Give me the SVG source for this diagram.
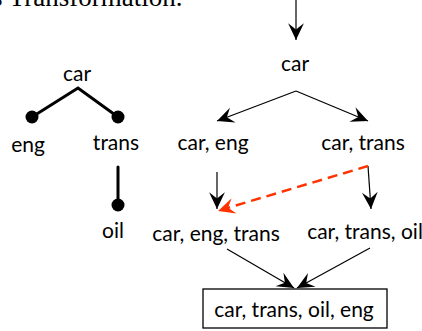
<svg xmlns="http://www.w3.org/2000/svg" width="422" height="331" viewBox="0 0 422 331">
  <style>
    text { font-family: Lato, "Noto Sans", "DejaVu Sans", sans-serif; font-size: 21px; fill: #000; text-anchor: middle; }
    .caption { font-family: "Liberation Serif", serif; font-size: 27px; text-anchor: start; }
    .tree { stroke: #000; stroke-width: 3; fill: none; stroke-linecap: round; }
    .dot { fill: #000; }
    .edge { stroke: #000; stroke-width: 1.2; fill: none; }
    .dashed { stroke: #ff3300; stroke-width: 2.5; fill: none; stroke-dasharray: 10 6; }
    .box { fill: #fff; stroke: #000; stroke-width: 1.3; }
  </style>
  <defs>
    <marker id="arrow" markerUnits="userSpaceOnUse" markerWidth="20" markerHeight="20" viewBox="-17 -9 19 18" refX="0" refY="0" orient="auto">
      <path d="M0,0 L-16,-7.5 L-10,0 L-16,7.5 Z" fill="#000"/>
    </marker>
    <marker id="arrow-red" markerUnits="userSpaceOnUse" markerWidth="20" markerHeight="20" viewBox="-17 -9 19 18" refX="0" refY="0" orient="auto">
      <path d="M0,0 L-16,-7.5 L-10,0 L-16,7.5 Z" fill="#ff3300"/>
    </marker>
  </defs>

  <!-- caption line running off the top edge -->
  <text class="caption" x="-8" y="6">s Transformation.</text>

  <!-- left: component tree -->
  <g id="tree">
    <g id="tree-edges">
      <polyline class="tree" points="32,117 78,88 118,117"/>
      <line class="tree" x1="118" y1="167" x2="118" y2="205"/>
      <circle class="dot" cx="32" cy="117" r="6.5"/>
      <circle class="dot" cx="118" cy="117" r="6.5"/>
      <circle class="dot" cx="118" cy="205" r="6.5"/>
    </g>
    <g id="tree-car"><text x="77" y="81">car</text></g>
    <g id="tree-eng"><text x="28" y="152">eng</text></g>
    <g id="tree-trans"><text x="116" y="150">trans</text></g>
    <g id="tree-oil"><text x="113" y="238">oil</text></g>
  </g>

  <!-- right: lattice -->
  <g id="connectors">
    <line class="edge" x1="296" y1="0" x2="296" y2="40" marker-end="url(#arrow)"/>
    <line class="edge" x1="296" y1="91" x2="217" y2="121" marker-end="url(#arrow)"/>
    <line class="edge" x1="296" y1="91" x2="368" y2="121" marker-end="url(#arrow)"/>
    <line class="edge" x1="217" y1="172" x2="217" y2="209" marker-end="url(#arrow)"/>
    <line class="edge" x1="368" y1="166" x2="371" y2="209" marker-end="url(#arrow)"/>
    <line class="dashed" x1="368" y1="166" x2="224" y2="209"/>
    <line x1="240" y1="204" x2="218" y2="211" stroke="none" marker-end="url(#arrow-red)"/>
    <line class="edge" x1="227" y1="249" x2="294" y2="288" marker-end="url(#arrow)"/>
    <line class="edge" x1="370" y1="248" x2="297" y2="288" marker-end="url(#arrow)"/>
  </g>

  <g id="n-car"><text x="295" y="71">car</text></g>
  <g id="n-car-eng"><text x="213" y="150">car, eng</text></g>
  <g id="n-car-trans"><text x="363" y="150">car, trans</text></g>
  <g id="n-car-eng-trans"><text x="216" y="241">car, eng, trans</text></g>
  <g id="n-car-trans-oil"><text x="365" y="239">car, trans, oil</text></g>
  <g id="n-all">
    <rect class="box" x="203" y="289" width="184" height="39"/>
    <text x="294" y="317">car, trans, oil, eng</text>
  </g>
</svg>
